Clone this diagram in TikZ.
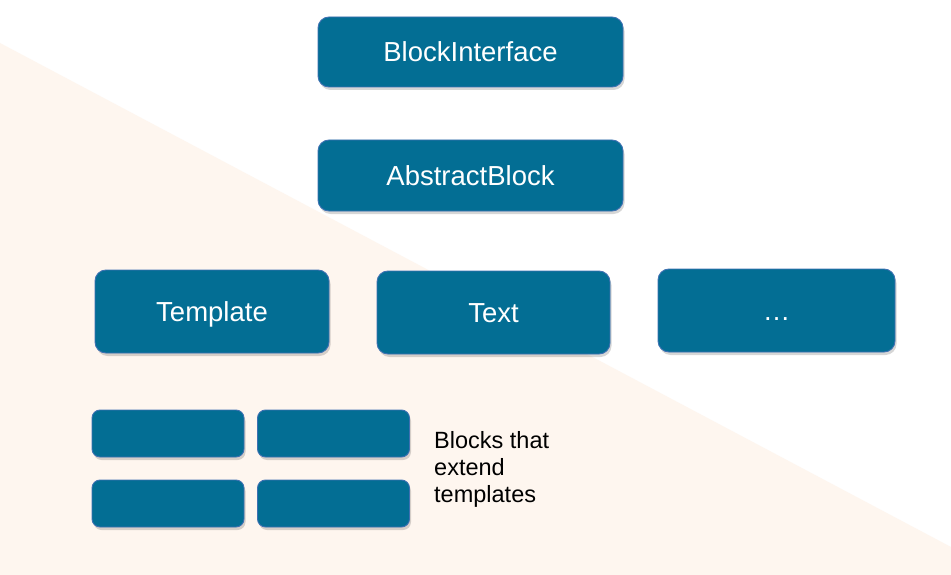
\documentclass[tikz,border=0pt]{standalone}
\usepackage{fontspec}
\setmainfont{Liberation Sans}
\usetikzlibrary{shadows}
\definecolor{blockfill}{RGB}{3,110,148}
\definecolor{blockline}{RGB}{62,112,178}
\definecolor{peach}{RGB}{254,246,239}
\tikzset{
  block/.style={draw=blockline,line width=0.9pt,fill=blockfill,rounded corners=11pt,
    text=white,font=\fontsize{27.5}{33}\selectfont,inner sep=0pt,
    text height=19.7pt,text depth=0pt,
    drop shadow={shadow xshift=1.5pt,shadow yshift=-3pt,fill=black,opacity=0.16}},
  smallblock/.style={block,rounded corners=8pt,minimum width=152pt,minimum height=47pt}
}
\begin{document}
\begin{tikzpicture}[x=1pt,y=-1pt]
    % background
    \fill[white] (0,0) rectangle (951,575);
    \fill[peach] (0,43) -- (951,547) -- (951,575) -- (0,575) -- cycle;

    \node[block,minimum width=305pt,minimum height=70pt](iface) at (470.5,52) {BlockInterface};
    \node[block,minimum width=305pt,minimum height=71pt](abstract) at (470.5,175.5) {AbstractBlock};

    \node[block,minimum width=234pt,minimum height=83pt](template) at (212,311.5) {Template};
    \node[block,minimum width=233pt,minimum height=83pt](text) at (493.5,312.5) {Text};
    \node[block,minimum width=237pt,minimum height=83pt](more) at (776.5,310.5) {…};

    \foreach \r/\y in {1/433.5, 2/503.5} {
      \node[smallblock](ext\r a) at (168,\y) {};
      \node[smallblock](ext\r b) at (333.5,\y) {};
    }

    \node[anchor=north west,inner sep=0pt,align=left,font=\fontsize{23.5}{27}\selectfont](extlabel)
      at (434,431) {Blocks that\\extend\\templates};
  \end{tikzpicture}
\end{document}
